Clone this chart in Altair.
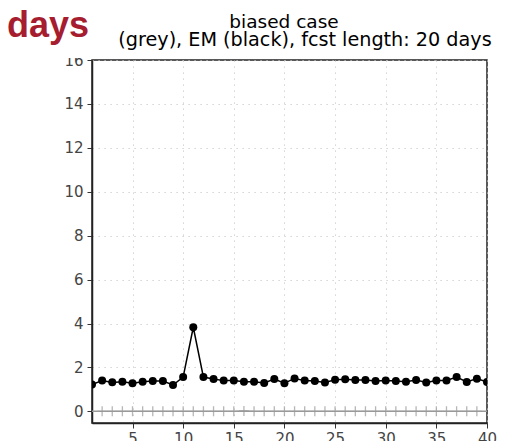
import altair as alt
import pandas as pd

days = list(range(1, 41))
em_values = [1.22, 1.40, 1.32, 1.35, 1.28, 1.35, 1.38, 1.38, 1.20, 1.56,
             3.83, 1.56, 1.47, 1.40, 1.40, 1.35, 1.35, 1.29, 1.47, 1.28,
             1.50, 1.40, 1.38, 1.31, 1.44, 1.46, 1.43, 1.43, 1.38, 1.40,
             1.38, 1.35, 1.43, 1.31, 1.40, 1.41, 1.56, 1.34, 1.49, 1.34]
grey_values = [0.0, 0.0, 0.0, 0.0, 0.0, 0.0, 0.0, 0.0, 0.0, 0.0,
               0.0, 0.0, 0.0, 0.0, 0.0, 0.02, 0.0, 0.0, 0.0, 0.0,
               0.0, 0.0, 0.0, 0.0, 0.0, 0.0, 0.0, 0.0, 0.0, 0.0,
               0.0, 0.0, 0.0, 0.0, 0.0, 0.0, 0.0, 0.0, 0.0, 0.0]
x_ticks = [5, 10, 15, 20, 25, 30, 35, 40]
y_ticks = [0, 2, 4, 6, 8, 10, 12, 14, 16]
title_1 = "biased case"
title_2 = "(grey), EM (black), fcst length: 20 days"
corner = "days"

df = pd.DataFrame({"day": days, "em": em_values, "grey": grey_values})

FONT = "DejaVu Sans"
W, H = 395, 363

xs = alt.Scale(domain=[1, 40], nice=False, zero=False)
ys = alt.Scale(domain=[-0.53, 16.0], nice=False, zero=False)

x_axis = alt.Axis(values=x_ticks, title=None, grid=True, gridDash=[1.2, 4.8],
                  gridColor="#c8c8c8", gridWidth=1, tickSize=5, tickColor="#333",
                  domainColor="#222", domainWidth=1.5, labelFont=FONT,
                  labelFontSize=15, labelColor="#444", labelPadding=3,
                  labelFlush=False)
y_axis = alt.Axis(values=y_ticks, title=None, grid=True, gridDash=[1.2, 4.8],
                  gridColor="#c8c8c8", gridWidth=1, tickSize=5, tickColor="#333",
                  domainColor="#222", domainWidth=1.5, labelFont=FONT,
                  labelFontSize=15, labelColor="#444", labelPadding=4)

base = alt.Chart(df)

grey_line = base.mark_line(color="#999999", strokeWidth=1.5, clip=True).encode(
    x=alt.X("day:Q", scale=xs, axis=x_axis),
    y=alt.Y("grey:Q", scale=ys, axis=y_axis),
)
grey_pts = base.transform_filter("datum.day >= 2 && datum.day <= 39").mark_point(
    shape="M-1,0L1,0M0,-1L0,1", size=100, color="#999999", strokeWidth=1.3,
    filled=False, clip=True
).encode(x=alt.X("day:Q", scale=xs), y=alt.Y("grey:Q", scale=ys))

em_line = base.mark_line(color="black", strokeWidth=1.5, clip=True).encode(
    x=alt.X("day:Q", scale=xs), y=alt.Y("em:Q", scale=ys))
em_pts = base.mark_circle(color="black", size=64, opacity=1, clip=True).encode(
    x=alt.X("day:Q", scale=xs), y=alt.Y("em:Q", scale=ys))

one = pd.DataFrame({"a": [0]})
cover = alt.Chart(one).mark_rect(color="white").encode(
    x=alt.value(-40), x2=alt.value(-6), y=alt.value(-22), y2=alt.value(-2))
t1 = alt.Chart(one).mark_text(text=title_1, font=FONT, fontSize=18.5,
                              color="black", align="center", baseline="alphabetic").encode(
    x=alt.value(192), y=alt.value(-32))
t2 = alt.Chart(one).mark_text(text=title_2, font=FONT, fontSize=19.2,
                              color="black", align="center", baseline="alphabetic").encode(
    x=alt.value(213), y=alt.value(-14))
t3 = alt.Chart(one).mark_text(text=corner, font="Liberation Sans", fontSize=36,
                              fontWeight="bold", color="#a51d2f", align="left",
                              baseline="alphabetic").encode(
    x=alt.value(-85), y=alt.value(-23))

chart = alt.layer(grey_line, grey_pts, em_line, em_pts, cover, t1, t2, t3).properties(
    width=W, height=H,
    autosize=alt.AutoSizeParams(type="none"),
    padding={"left": 84, "top": 52, "right": 13, "bottom": 18},
).configure_view(stroke="#222", strokeWidth=1.5)

chart.save("out.html", embed_options={"renderer": "svg", "actions": False})
